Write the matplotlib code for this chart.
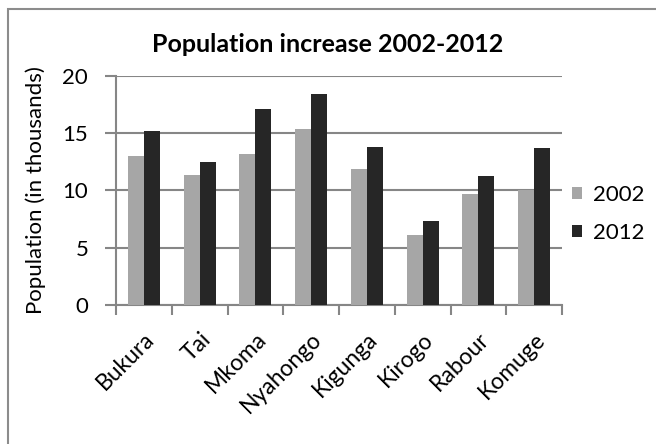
import numpy as np
import matplotlib.pyplot as plt
from matplotlib.patches import Rectangle

plt.rcParams['font.family'] = ['Lato', 'DejaVu Sans']

places = ['Bukura', 'Tai', 'Mkoma', 'Nyahongo', 'Kigunga', 'Kirogo', 'Rabour', 'Komuge']
pop_2002 = [13.0, 11.35, 13.2, 15.4, 11.85, 6.1, 9.7, 10.0]
pop_2012 = [15.2, 12.5, 17.1, 18.45, 13.8, 7.3, 11.3, 13.7]
yticks = [0, 5, 10, 15, 20]

grey = '#868686'

fig = plt.figure(figsize=(6.56, 4.44), dpi=100)
ax = fig.add_axes([116 / 656, 1 - 305 / 444, 446 / 656, 229 / 444])

x = np.arange(len(places))
w = 0.288
ax.bar(x - w / 2, pop_2002, w, color='#a6a6a6', label='2002', zorder=3)
ax.bar(x + w / 2, pop_2012, w, color='#262626', label='2012', zorder=3)

ax.set_xlim(-0.5, len(places) - 0.5)
ax.set_ylim(0, 20)
ax.set_yticks(yticks)
ax.yaxis.grid(True, color=grey, lw=1.5, zorder=0)
ax.set_axisbelow(True)

ax.set_xticks(x)
ax.set_xticklabels(places, rotation=45, ha='right', rotation_mode='anchor')
ax.set_xticks(np.arange(-0.5, len(places)), minor=True)
ax.tick_params(axis='x', which='major', length=0, pad=17, labelsize=16.5)
ax.tick_params(axis='x', which='minor', length=7, width=1.5, color=grey, direction='out')
ax.tick_params(axis='y', length=8, width=1.5, color=grey, pad=12, labelsize=16)

for s in ['top', 'right']:
    ax.spines[s].set_visible(False)
for s in ['left', 'bottom']:
    ax.spines[s].set_color(grey)
    ax.spines[s].set_linewidth(1.5)

fig.text(328 / 656, 1 - 44 / 444, 'Population increase 2002-2012', ha='center', va='center',
         fontsize=18, fontweight='bold')
fig.text(36 / 656, 1 - 190 / 444, 'Population (in thousands)', rotation=90,
         ha='center', va='center', fontsize=16)

fig.legend(loc='center left', bbox_to_anchor=(572 / 656, 1 - 214 / 444), frameon=False,
           fontsize=16, handlelength=0.45, handleheight=0.45, handletextpad=0.5,
           labelspacing=0.8, borderpad=0, borderaxespad=0)

fig.patches.append(Rectangle((8 / 656, -0.1), 2, 1.1 - 9.5 / 444, transform=fig.transFigure,
                             fill=False, edgecolor='#8c8c8c', lw=1.5))

fig.savefig('out.png', dpi=100)
